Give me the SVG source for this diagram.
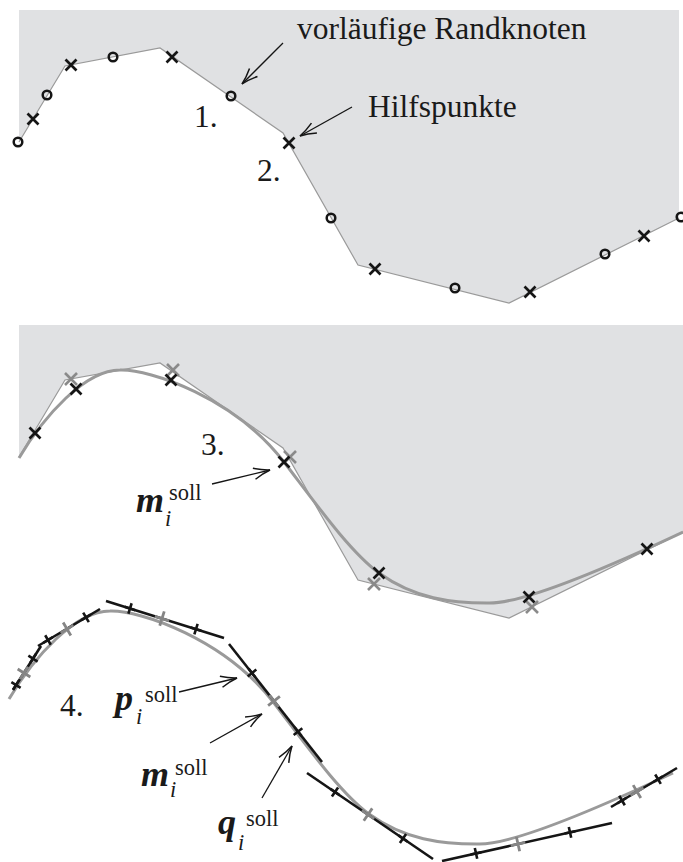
<svg xmlns="http://www.w3.org/2000/svg" xmlns:xlink="http://www.w3.org/1999/xlink" width="683" height="862" viewBox="0 0 683 862">
<defs>
<style>
.region{fill:#e0e1e3;stroke:none}
.poly{fill:none;stroke:#9a9a9a;stroke-width:1.2;stroke-linejoin:miter}
.curve{fill:none;stroke:#9a9a9a;stroke-width:3}
.tan{stroke:#151515;stroke-width:2.6;fill:none}
.arrow{stroke:#151515;stroke-width:1.3;fill:none;marker-end:url(#ah)}
.ko{fill:none;stroke:#151515;stroke-width:2.5}
.lbl{font-family:"Liberation Serif","Times New Roman",serif;font-size:31.5px;fill:#1a1a1a}
.math{font-family:"Liberation Serif","Times New Roman",serif;font-weight:bold;font-style:italic;font-size:36px;fill:#1a1a1a}
.sup{font-family:"Liberation Serif","Times New Roman",serif;font-size:22.5px;fill:#1a1a1a}
.sub{font-family:"Liberation Serif","Times New Roman",serif;font-style:italic;font-size:22.5px;fill:#1a1a1a}
</style>
<marker id="ah" markerUnits="userSpaceOnUse" markerWidth="20" markerHeight="20" viewBox="-14 -7 16 14" refX="0" refY="0" orient="auto" overflow="visible">
<path d="M-13,-4.5 Q-6,-1.2 0,0 Q-6,1.2 -13,4.5" fill="none" stroke="#151515" stroke-width="1.2"/>
</marker>
<path id="xb" d="M-5.5,-5.5L5.5,5.5M-5.5,5.5L5.5,-5.5" stroke="#151515" stroke-width="2.7"/>
<path id="xg" d="M-6,-6L6,6M-6,6L6,-6" stroke="#8a8a8a" stroke-width="2.6"/>
<path id="pb" d="M-5.5,0H5.5M0,-5.5V5.5" stroke="#151515" stroke-width="2.6"/>
<path id="pg" d="M-7.5,0H7.5M0,-7.5V7.5" stroke="#858585" stroke-width="2.8"/>
<path id="cv" d="M19,458 C44,416 85,370 120,370 C150,369 235,398 284,462 C314,501 349,551 379,573 C415,599 452,603 487,603 C525,605 633,555.5 683,532"/>
</defs>

<!-- Panel 1 -->
<g id="panel1">
<polygon class="region" points="19,10 679,10 679,218 509,303 358,265 283,133 160,48 65,66 19,142"/>
<polyline class="poly" points="679,218 509,303 358,265 283,133 160,48 65,66 19,142"/>
</g>
<g id="randknoten1">
<circle class="ko" cx="18" cy="142" r="4.3"/>
<circle class="ko" cx="47" cy="95" r="4.3"/>
<circle class="ko" cx="113" cy="57" r="4.3"/>
<circle class="ko" cx="231" cy="96" r="4.3"/>
<circle class="ko" cx="331" cy="218" r="4.3"/>
<circle class="ko" cx="455" cy="288" r="4.3"/>
<circle class="ko" cx="605" cy="254" r="4.3"/>
<circle class="ko" cx="681" cy="217" r="4.3"/>
</g>
<g id="hilfspunkte1">
<use xlink:href="#xb" href="#xb" transform="translate(33,119)"/>
<use xlink:href="#xb" href="#xb" transform="translate(71,65)"/>
<use xlink:href="#xb" href="#xb" transform="translate(172,57)"/>
<use xlink:href="#xb" href="#xb" transform="translate(289,143)"/>
<use xlink:href="#xb" href="#xb" transform="translate(375,269)"/>
<use xlink:href="#xb" href="#xb" transform="translate(530,292)"/>
<use xlink:href="#xb" href="#xb" transform="translate(644,236)"/>
</g>
<g id="labels1">
<text class="lbl" x="297" y="39">vorläufige Randknoten</text>
<text class="lbl" x="368" y="117">Hilfspunkte</text>
<text class="lbl" x="194" y="127">1.</text>
<text class="lbl" x="257" y="181">2.</text>
</g>

<!-- Panel 2 -->
<g id="panel2">
<polygon class="region" points="19,325 683,325 683,532 509,618 358,580 283,448 160,363 65,380 19,457"/>
<polyline class="poly" points="683,532 509,618 358,580 283,448 160,363 65,380 19,457"/>
</g>
<g id="hilfspunkte2">
<use xlink:href="#xg" href="#xg" transform="translate(71,379)"/>
<use xlink:href="#xg" href="#xg" transform="translate(173,370)"/>
<use xlink:href="#xg" href="#xg" transform="translate(290,457)"/>
<use xlink:href="#xg" href="#xg" transform="translate(374,584)"/>
<use xlink:href="#xg" href="#xg" transform="translate(532,607)"/>
</g>
<g id="kurve2">
<use xlink:href="#cv" href="#cv" class="curve"/>
</g>
<g id="msoll2">
<use xlink:href="#xb" href="#xb" transform="translate(35,433)"/>
<use xlink:href="#xb" href="#xb" transform="translate(76,389)"/>
<use xlink:href="#xb" href="#xb" transform="translate(171,380)"/>
<use xlink:href="#xb" href="#xb" transform="translate(284,462)"/>
<use xlink:href="#xb" href="#xb" transform="translate(379,573)"/>
<use xlink:href="#xb" href="#xb" transform="translate(529,597)"/>
<use xlink:href="#xb" href="#xb" transform="translate(647,549)"/>
</g>
<g id="labels2">
<text class="lbl" x="201" y="455">3.</text>
<text class="math" x="136" y="512">m</text>
<text class="sub" x="165" y="526">i</text>
<text class="sup" x="169" y="500">soll</text>
</g>

<!-- Panel 3 -->
<g id="kurve3">
<use xlink:href="#cv" href="#cv" class="curve" transform="translate(-10,241)"/>
</g>
<g id="tangenten3">
<line class="tan" x1="13" y1="690" x2="41" y2="646"/>
<line class="tan" x1="38" y1="646" x2="100" y2="609"/>
<line class="tan" x1="106" y1="601" x2="224" y2="638"/>
<line class="tan" x1="229" y1="644" x2="322" y2="762"/>
<line class="tan" x1="307" y1="773" x2="433" y2="859"/>
<line class="tan" x1="442" y1="861" x2="612" y2="823"/>
<line class="tan" x1="611" y1="807" x2="677" y2="768"/>
</g>
<g id="msoll3">
<use xlink:href="#pg" href="#pg" transform="translate(24,673) rotate(-57.5)"/>
<use xlink:href="#pg" href="#pg" transform="translate(67,629) rotate(-30.8)"/>
<use xlink:href="#pg" href="#pg" transform="translate(162,618.6) rotate(17.4)"/>
<use xlink:href="#pg" href="#pg" transform="translate(274,701) rotate(51.8)"/>
<use xlink:href="#pg" href="#pg" transform="translate(368,814.6) rotate(34.3)"/>
<use xlink:href="#pg" href="#pg" transform="translate(518,844) rotate(-12.6)"/>
<use xlink:href="#pg" href="#pg" transform="translate(637,791.6) rotate(-30.6)"/>
</g>
<g id="pqsoll3">
<use xlink:href="#pb" href="#pb" transform="translate(16,685) rotate(-57.5)"/>
<use xlink:href="#pb" href="#pb" transform="translate(33,658.6) rotate(-57.5)"/>
<use xlink:href="#pb" href="#pb" transform="translate(48,640) rotate(-30.8)"/>
<use xlink:href="#pb" href="#pb" transform="translate(86,617.4) rotate(-30.8)"/>
<use xlink:href="#pb" href="#pb" transform="translate(130,608.5) rotate(17.4)"/>
<use xlink:href="#pb" href="#pb" transform="translate(196,629.2) rotate(17.4)"/>
<use xlink:href="#pb" href="#pb" transform="translate(252,673) rotate(51.8)"/>
<use xlink:href="#pb" href="#pb" transform="translate(298,731.6) rotate(51.8)"/>
<use xlink:href="#pb" href="#pb" transform="translate(335,792) rotate(34.3)"/>
<use xlink:href="#pb" href="#pb" transform="translate(403,838.5) rotate(34.3)"/>
<use xlink:href="#pb" href="#pb" transform="translate(476,853.4) rotate(-12.6)"/>
<use xlink:href="#pb" href="#pb" transform="translate(570,832.4) rotate(-12.6)"/>
<use xlink:href="#pb" href="#pb" transform="translate(622,800.5) rotate(-30.6)"/>
<use xlink:href="#pb" href="#pb" transform="translate(658,779.2) rotate(-30.6)"/>
</g>
<g id="labels3">
<text class="lbl" x="60" y="716">4.</text>
<text class="math" x="115" y="710">p</text>
<text class="sub" x="136" y="724">i</text>
<text class="sup" x="145" y="702">soll</text>
<text class="math" x="141" y="786">m</text>
<text class="sub" x="170" y="797">i</text>
<text class="sup" x="175" y="775">soll</text>
<text class="math" x="218" y="834">q</text>
<text class="sub" x="238" y="850">i</text>
<text class="sup" x="246" y="826">soll</text>
</g>

<!-- Connectors -->
<g id="connectors">
<line class="arrow" x1="283" y1="43" x2="242" y2="84"/>
<line class="arrow" x1="352" y1="107" x2="300" y2="136"/>
<line class="arrow" x1="212" y1="484" x2="270" y2="470"/>
<line class="arrow" x1="179" y1="692" x2="237" y2="678"/>
<line class="arrow" x1="210" y1="743" x2="262" y2="714"/>
<line class="arrow" x1="262" y1="798" x2="292" y2="746"/>
</g>
</svg>
